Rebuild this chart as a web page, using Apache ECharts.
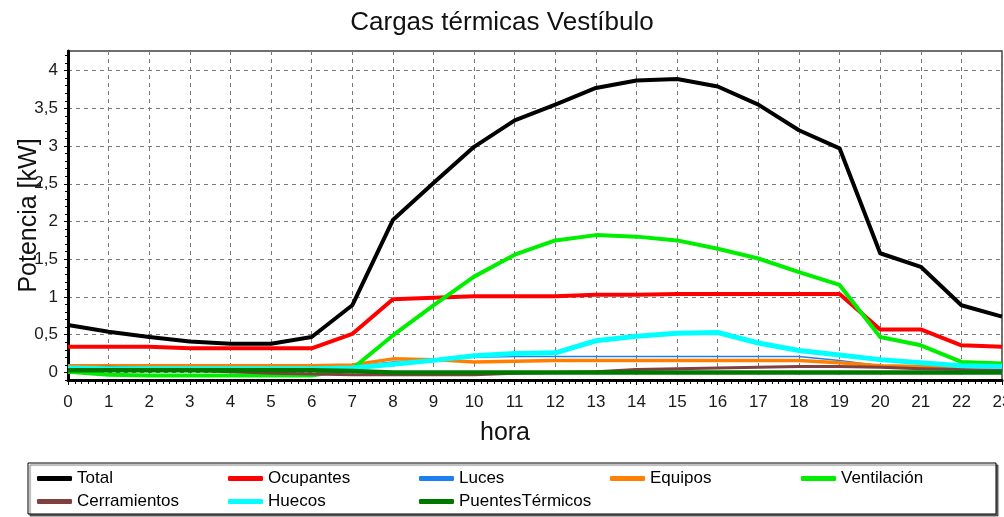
<!DOCTYPE html>
<html>
<head>
<meta charset="utf-8">
<script src="https://cdn.jsdelivr.net/npm/echarts@6/dist/echarts.min.js"></script>
<style>
  html, body { margin: 0; padding: 0; background: #ffffff; }
  #chart { width: 1004px; height: 517px; }
</style>
</head>
<body>
<div id="chart"></div>
<script>
// Hourly thermal loads of the lobby zone, in kW
const hours = [0, 1, 2, 3, 4, 5, 6, 7, 8, 9, 10, 11, 12, 13, 14, 15, 16, 17, 18, 19, 20, 21, 22, 23];

const total        = [0.63, 0.54, 0.47, 0.41, 0.38, 0.38, 0.47, 0.89, 2.02, 2.51, 2.99, 3.34, 3.55, 3.77, 3.87, 3.89, 3.79, 3.55, 3.21, 2.97, 1.58, 1.40, 0.89, 0.74];
const ocupantes    = [0.34, 0.34, 0.34, 0.32, 0.32, 0.32, 0.32, 0.51, 0.97, 0.99, 1.01, 1.01, 1.01, 1.03, 1.03, 1.04, 1.04, 1.04, 1.04, 1.04, 0.57, 0.57, 0.36, 0.34];
const luces        = [0.08, 0.08, 0.08, 0.08, 0.08, 0.08, 0.08, 0.08, 0.14, 0.17, 0.20, 0.21, 0.21, 0.21, 0.21, 0.21, 0.21, 0.21, 0.21, 0.16, 0.09, 0.08, 0.08, 0.08];
const equipos      = [0.09, 0.09, 0.09, 0.09, 0.09, 0.09, 0.09, 0.10, 0.18, 0.17, 0.14, 0.15, 0.16, 0.16, 0.16, 0.16, 0.16, 0.16, 0.16, 0.13, 0.09, 0.08, 0.08, 0.08];
const ventilacion  = [0.01, -0.03, -0.04, -0.04, -0.04, -0.04, -0.04, 0.05, 0.49, 0.89, 1.27, 1.56, 1.75, 1.82, 1.80, 1.75, 1.64, 1.51, 1.33, 1.16, 0.47, 0.36, 0.14, 0.12];
const cerramientos = [0.06, 0.07, 0.05, 0.03, 0.01, -0.01, -0.02, -0.03, -0.03, -0.03, -0.03, -0.01, 0.00, 0.01, 0.04, 0.05, 0.06, 0.07, 0.08, 0.08, 0.07, 0.05, 0.04, 0.03];
const huecos       = [0.06, 0.05, 0.05, 0.05, 0.05, 0.05, 0.05, 0.06, 0.11, 0.16, 0.22, 0.25, 0.26, 0.42, 0.48, 0.52, 0.53, 0.39, 0.29, 0.23, 0.17, 0.13, 0.09, 0.08];
const puentes      = [0.03, 0.03, 0.03, 0.03, 0.03, 0.03, 0.03, 0.02, 0.00, 0.00, 0.00, 0.00, 0.00, 0.00, 0.00, 0.00, 0.00, 0.00, 0.00, 0.00, 0.00, 0.00, 0.00, 0.00];

// Value axis ticks (labels use a decimal comma)
const yTicks = [0, 0.5, 1, 1.5, 2, 2.5, 3, 3.5, 4];
const yMinorTicks = [];
for (let v = -1; v <= 42; v++) yMinorTicks.push(v / 10);

const FONT = "'Liberation Sans', Arial, sans-serif";

const seriesDefs = [
  { name: 'Total',           data: total,        color: '#000000', width: 4 },
  { name: 'Ocupantes',       data: ocupantes,    color: '#ff0000', width: 4 },
  { name: 'Luces',           data: luces,        color: '#1e7ff0', width: 1.5 },
  { name: 'Equipos',         data: equipos,      color: '#ff8000', width: 3.5 },
  { name: 'Ventilación',     data: ventilacion,  color: '#00ee00', width: 4 },
  { name: 'Cerramientos',    data: cerramientos, color: '#804040', width: 3 },
  { name: 'Huecos',          data: huecos,       color: '#00ffff', width: 5 },
  { name: 'PuentesTérmicos', data: puentes,      color: '#007800', width: 4.5 }
];

const chart = echarts.init(document.getElementById('chart'), null, { renderer: 'canvas' });

chart.setOption({
  animation: false,
  backgroundColor: '#ffffff',
  title: {
    text: 'Cargas térmicas Vestíbulo',
    left: 'center',
    top: 10,
    padding: 0,
    textStyle: { fontFamily: FONT, fontSize: 26, fontWeight: 'normal', color: '#111111' }
  },
  grid: {
    left: 68, right: 2, top: 51, bottom: 137,
    outerBoundsMode: 'none',
    containLabel: false,
    show: true, borderColor: '#404040', borderWidth: 1.5, backgroundColor: 'transparent'
  },
  legend: {
    data: seriesDefs.map(s => s.name),
    left: 28, top: 463,
    width: 970,
    padding: [4, 4, 1, 9],
    itemGap: 0,
    itemWidth: 35, itemHeight: 5,
    icon: 'roundRect',
    selectedMode: false,
    backgroundColor: '#ffffff',
    borderColor: '#000000', borderWidth: 1,
    shadowColor: 'rgba(0,0,0,0.55)', shadowOffsetX: 2, shadowOffsetY: 2, shadowBlur: 1,
    textStyle: { fontFamily: FONT, fontSize: 17, color: '#000000', width: 151, lineHeight: 23 }
  },
  xAxis: {
    type: 'value',
    min: 0, max: 23, interval: 1,
    name: 'hora',
    nameLocation: 'middle',
    nameGap: 41,
    nameMoveOverlap: false,
    nameTextStyle: { fontFamily: FONT, fontSize: 25, color: '#111111', padding: [0, 60, 0, 0] },
    axisLine: { show: true, onZero: false, lineStyle: { color: '#000000', width: 3 } },
    axisTick: { show: true, inside: false, length: 5, lineStyle: { color: '#000000', width: 1 } },
    minorTick: { show: true, splitNumber: 6, length: 4, lineStyle: { color: '#000000', width: 1 } },
    axisLabel: { fontFamily: FONT, fontSize: 17, color: '#1a1a1a', margin: 14 },
    splitLine: { show: true, lineStyle: { color: '#7a7a7a', width: 1, type: [4, 4] } }
  },
  yAxis: [
    {
      type: 'value',
      min: -0.1, max: 4.26,
      name: 'Potencia [kW]',
      nameLocation: 'middle',
      nameGap: 26,
      nameMoveOverlap: false,
      nameTextStyle: { fontFamily: FONT, fontSize: 25, color: '#111111' },
      axisLine: { show: true, onZero: false, lineStyle: { color: '#000000', width: 3 } },
      axisTick: { show: true, customValues: yTicks, length: 4, lineStyle: { color: '#000000', width: 1 } },
      axisLabel: {
        customValues: yTicks,
        fontFamily: FONT, fontSize: 17, color: '#1a1a1a', margin: 10,
        formatter: v => String(v).replace('.', ',')
      },
      splitLine: { show: true, lineStyle: { color: '#7a7a7a', width: 1, type: [4, 4] } }
    },
    {
      // minor tick marks along the value axis
      type: 'value',
      position: 'left',
      min: -0.1, max: 4.26,
      axisLine: { show: false },
      axisTick: { show: true, customValues: yMinorTicks, length: 3, lineStyle: { color: '#000000', width: 1 } },
      axisLabel: { show: false },
      splitLine: { show: false }
    }
  ],
  series: seriesDefs.map(s => ({
    name: s.name,
    type: 'line',
    yAxisIndex: 0,
    symbol: 'none',
    data: hours.map((h, i) => [h, s.data[i]]),
    lineStyle: { color: s.color, width: s.width, join: 'round' },
    itemStyle: { color: s.color },
    emphasis: { disabled: true }
  }))
});
</script>
</body>
</html>
